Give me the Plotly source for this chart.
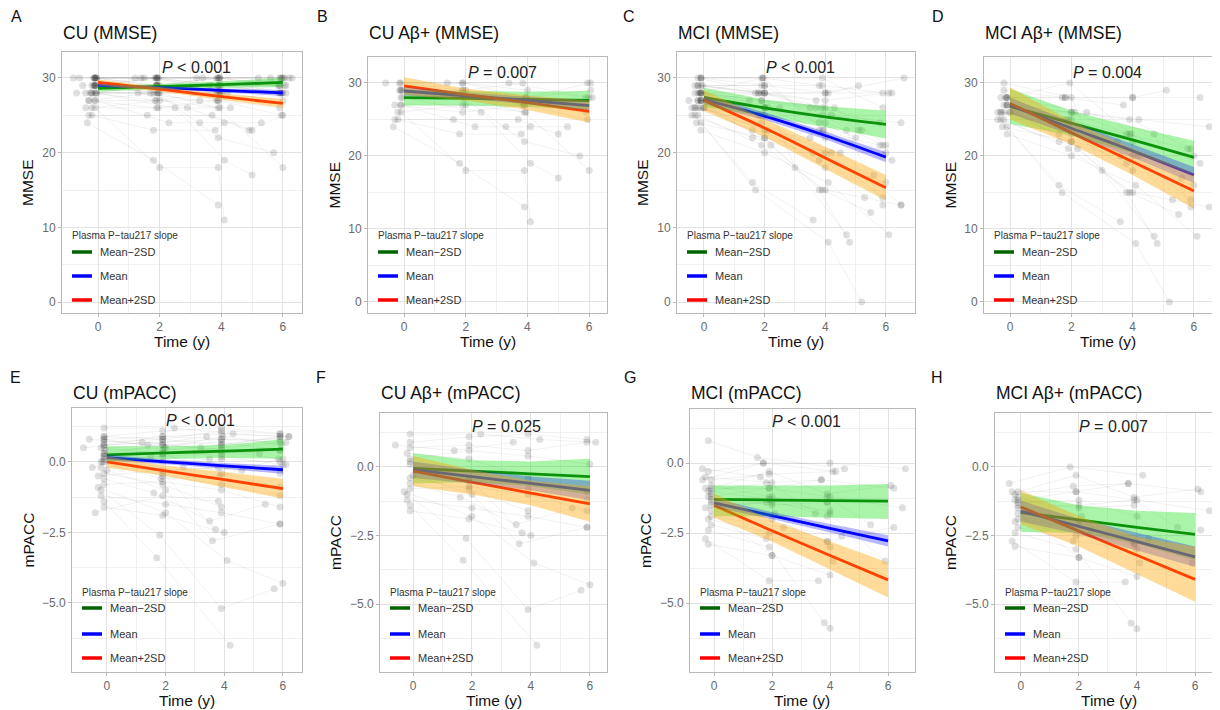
import plotly.graph_objects as go

# The page body has an 8 px margin, so the figure is drawn 8 px smaller and
# all reference pixel positions are shifted by that margin.
MARGIN = 8
W, H = 1220 - MARGIN, 710 - MARGIN
FONT = "Liberation Sans, Arial, Helvetica, sans-serif"

# ---------------- data ----------------
groups = ["Mean−2SD", "Mean", "Mean+2SD"]
fit_x = [0, 2, 4, 6]

# subject trajectories: (times, values, amyloid_positive)
cu_mmse = [
    ([-0.10, 1.90, 3.90, 5.90], [30, 30, 30, 30], 0),
    ([-0.05, 1.95, 3.95, 5.95], [30, 30, 30, 30], 0),
    ([-0.10, 1.85, 3.90, 6.00], [30, 30, 29, 30], 0),
    ([-0.15, 1.90, 3.85, 5.95], [30, 29, 30, 30], 1),
    ([-0.10, 1.95, 3.95, 5.90], [29, 30, 30, 29], 0),
    ([-0.20, 1.90, 3.90, 5.85], [29, 29, 29, 29], 0),
    ([-0.10, 1.90, 3.95, 6.05], [29, 30, 28, 29], 1),
    ([-0.05, 2.00, 3.90, 5.95], [28, 28, 28, 28], 0),
    ([-0.10, 1.90, 3.85, 5.90], [28, 29, 27, 28], 1),
    ([-0.20, 1.95, 4.00, 6.00], [28, 28, 28, 27], 0),
    ([-0.80, 1.20, 3.20, 5.20], [30, 30, 30, 30], 0),
    ([-0.50, 1.50, 3.60, 5.60], [29, 30, 29, 30], 0),
    ([-0.40, 1.70, 3.70, 6.20], [28, 28, 29, 30], 0),
    ([-0.60, 1.40, 3.40, 6.10], [30, 30, 30, 28], 1),
    ([-0.30, 1.80, 4.20, 6.30], [27, 28, 28, 30], 0),
    ([-0.10, 1.90, 3.90, 5.90], [27, 27, 27, 26], 1),
    ([-0.30, 1.90, 3.90, 5.95], [27, 26, 27, 25], 1),
    ([-0.20, 2.00, 3.95], [26, 27, 26], 1),
    ([-0.40, 1.95, 4.30], [26, 26, 26], 0),
    ([-0.30, 1.60, 3.70, 5.00], [25, 25, 25, 23], 1),
    ([-0.20, 1.80, 3.80, 4.10], [25, 23, 23, 24], 1),
    ([-0.10, 2.30, 3.30, 5.30], [27, 24, 24, 24], 1),
    ([-0.35, 1.80, 3.90], [24, 19, 13], 1),
    ([-0.10, 2.00, 3.90, 4.10], [26, 18, 18, 11], 1),
    ([-0.05, 2.50, 4.10, 5.00], [28, 26, 19, 17], 1),
    ([-0.10, 1.90, 3.90, 5.70], [29, 28, 22, 20], 1),
    ([-0.15, 1.95, 3.90, 6.00], [29, 28, 26, 18], 1),
    ([-0.10, 2.90, 4.90, 6.00], [30, 26, 23, 25], 0),
    ([-0.20, 1.90, 3.90, 6.10], [28, 29, 29, 29], 0),
    ([-0.05, 1.90, 3.90, 5.90], [30, 29, 30, 29], 0),
    ([-0.10, 1.95, 3.95, 5.95], [29, 29, 29, 28], 0),
    ([-0.25, 1.85, 3.85, 5.85], [28, 27, 28, 28], 0),
    ([-0.10, 1.90, 4.00, 6.00], [30, 30, 29, 28], 1),
    ([-0.05, 2.00, 3.95, 6.05], [29, 29, 28, 30], 1),
    ([-0.70, 1.30, 3.30], [28, 28, 27], 0),
]

mci_mmse = [
    ([-0.10, 1.90, 3.90, 5.90], [30, 30, 30, 26], 0),
    ([-0.20, 1.80, 4.00, 5.10], [29, 28, 28, 29], 1),
    ([-0.10, 1.95, 3.80], [30, 30, 29], 0),
    ([-0.30, 1.70, 3.70], [28, 28, 27], 1),
    ([-0.10, 2.00, 3.90, 5.90], [27, 26, 25, 21], 1),
    ([-0.20, 1.90, 4.00, 5.90], [26, 24, 20, 14], 1),
    ([-0.10, 2.00, 4.00, 6.00], [27, 25, 22, 20], 1),
    ([-0.40, 1.60, 3.60, 5.60], [25, 22, 20, 17], 1),
    ([0.00, 2.00, 4.00], [26, 23, 18], 1),
    ([-0.10, 1.90, 3.90, 5.80], [28, 27, 26, 24], 0),
    ([-0.20, 2.00, 4.10, 6.60], [29, 29, 28, 30], 0),
    ([-0.10, 1.80, 4.00, 6.20], [28, 28, 28, 28], 1),
    ([-0.30, 2.10, 4.20, 6.50], [26, 26, 25, 24], 1),
    ([-0.10, 2.00, 3.90, 6.20], [27, 26, 23, 19], 1),
    ([-0.20, 1.90, 4.00, 6.50], [25, 21, 15, 13], 1),
    ([-0.10, 1.60, 3.60], [24, 16, 11], 1),
    ([-0.30, 1.70, 4.10, 5.20], [25, 15, 8, 0], 1),
    ([-0.10, 2.00, 4.10, 6.10], [23, 20, 16, 9], 1),
    ([0.00, 2.00, 3.80, 4.80], [26, 22, 15, 8], 1),
    ([-0.20, 2.20, 3.90, 5.50], [27, 21, 15, 12], 1),
    ([-0.10, 1.80, 3.80, 5.80], [28, 25, 23, 21], 1),
    ([-0.05, 2.00, 4.00, 5.20], [29, 28, 26, 23], 0),
    ([-0.20, 2.00, 3.80, 5.00], [27, 26, 24, 22], 0),
    ([-0.10, 2.50, 4.70, 5.90], [28, 26, 23, 13], 1),
    ([-0.30, 1.60, 3.50, 5.30], [26, 23, 22, 14], 1),
    ([-0.10, 1.90, 3.90, 5.90], [29, 29, 29, 28], 0),
    ([-0.20, 2.00, 3.00, 4.70], [30, 28, 18, 9], 1),
    ([-0.10, 2.10, 4.50, 6.50], [26, 23, 20, 13], 0),
    ([-0.40, 1.90, 3.80, 6.00], [26, 25, 19, 16], 1),
    ([-0.10, 2.00, 4.00], [30, 29, 24], 0),
    ([-0.20, 1.90, 4.30, 6.00], [28, 27, 26, 21], 0),
    ([-0.10, 1.90, 3.70, 5.10], [27, 28, 26, 23], 0),
    ([-0.50, 1.50, 3.50], [27, 27, 26], 0),
    ([-0.30, 2.00, 4.00, 6.10], [29, 28, 27, 28], 0),
    ([-0.15, 1.95, 3.95], [28, 30, 23], 1),
    ([-0.25, 2.00, 4.20], [24, 22, 20], 1),
]

cu_mpacc = [
    ([-0.10, 1.90, 3.90, 5.90], [0.8, 0.9, 1.0, 0.9], 0),
    ([-0.10, 1.90, 3.90, 5.90], [0.6, 0.7, 0.8, 0.8], 0),
    ([-0.05, 1.95, 3.95, 5.95], [0.4, 0.5, 0.9, 0.6], 0),
    ([-0.10, 1.90, 3.90, 5.90], [0.9, 1.1, 1.2, 1.0], 1),
    ([-0.10, 1.90, 3.90, 6.10], [0.2, 0.3, 0.5, 0.7], 0),
    ([-0.10, 1.90, 3.90, 5.90], [0.0, 0.2, 0.3, 0.4], 0),
    ([-0.20, 1.90, 3.90, 5.90], [-0.2, 0.0, 0.1, 0.0], 0),
    ([-0.10, 1.90, 3.90, 5.90], [0.7, 0.8, 0.6, 0.9], 1),
    ([-0.10, 1.90, 3.90, 6.00], [0.3, 0.6, 0.4, 0.1], 1),
    ([-0.30, 1.90, 3.80, 5.90], [-0.5, -0.3, -0.2, -0.4], 0),
    ([-0.10, 1.90, 3.90, 5.90], [-0.8, -0.7, -1.0, -1.6], 1),
    ([-0.20, 2.00, 3.90, 5.90], [-1.2, -1.5, -1.8, -2.2], 1),
    ([-0.10, 1.90, 4.00], [-1.6, -1.9, -2.5], 1),
    ([-0.20, 1.80, 3.90, 5.70], [-1.0, -2.6, -5.2, -4.5], 1),
    ([-0.10, 1.70, 4.20], [-1.4, -3.4, -6.5], 1),
    ([-0.30, 2.00, 4.10, 6.00], [-0.9, -1.8, -3.5, -4.3], 1),
    ([-0.80, 1.20, 3.20, 5.20], [0.5, 0.7, 0.5, 0.3], 0),
    ([-0.50, 1.50, 3.50], [-0.2, 0.2, 0.1], 0),
    ([-0.10, 2.30, 4.30, 6.20], [1.2, 1.2, 1.0, 0.9], 1),
    ([-0.20, 1.90, 3.90, 5.90], [0.5, 0.3, -0.4, -0.9], 1),
    ([-0.10, 1.90, 3.90, 5.90], [0.1, -0.5, -0.8, -1.2], 1),
    ([-0.40, 1.90, 3.80], [-1.8, -1.2, -1.4], 0),
    ([-0.10, 1.60, 3.50, 5.40], [-0.6, -1.1, -2.1, -1.5], 1),
    ([-0.10, 2.00, 3.90, 6.00], [0.8, 0.5, 0.2, -0.1], 0),
    ([-0.10, 1.90, 3.70], [0.2, -0.4, -2.4], 1),
    ([-0.10, 1.90, 3.90, 5.90], [0.6, 0.9, 0.8, 0.7], 0),
    ([-0.10, 1.90, 3.90, 5.90], [0.9, 0.8, 1.1, 1.0], 0),
    ([-0.10, 1.90, 3.90, 6.20], [0.3, 0.4, 0.6, 0.9], 0),
    ([-0.20, 2.60, 4.60, 6.10], [0.0, -0.2, -0.3, -0.1], 0),
    ([-0.10, 1.90, 3.90], [-0.4, -0.8, -1.6], 1),
    ([0.00, 2.00, 3.60, 5.90], [-0.3, -1.0, -2.8, -2.2], 1),
    ([-0.10, 1.90, 3.90, 5.90], [0.5, 0.6, 0.7, 0.4], 0),
    ([-0.60, 1.40, 3.40], [0.8, 0.6, 0.9], 1),
    ([-0.15, 1.85, 3.85, 5.85], [0.0, -0.6, -0.5, 0.1], 0),
]

mci_mpacc = [
    ([-0.20, 1.70, 4.00, 6.60], [-0.3, 0.0, 0.0, -0.2], 0),
    ([-0.10, 1.90, 4.10], [-0.6, -0.4, -0.3], 0),
    ([-0.20, 1.80, 3.70, 6.20], [-1.0, -0.7, -0.6, -0.9], 1),
    ([-0.10, 2.00, 4.00, 5.90], [-1.3, -1.2, -1.8, -3.5], 1),
    ([-0.30, 1.90, 3.90, 5.40], [-0.9, -0.9, -1.2, -2.2], 1),
    ([-0.10, 2.00, 4.00, 6.50], [-1.5, -1.4, -1.2, -1.6], 1),
    ([-0.20, 1.90, 3.90], [-2.0, -2.5, -2.8], 1),
    ([-0.10, 2.00, 4.00], [-1.7, -3.3, -4.0], 1),
    ([-0.20, 1.90, 3.80, 4.00], [-2.4, -3.0, -5.7, -5.9], 1),
    ([-0.30, 1.90, 3.60], [-2.7, -4.2, -4.2], 1),
    ([-0.10, 2.10, 4.10], [-1.1, -1.8, -3.5], 1),
    ([-0.40, 1.60, 3.50], [-0.2, -0.5, -1.8], 0),
    ([-0.20, 1.50, 4.50], [0.8, 0.2, -0.2], 0),
    ([-0.10, 2.00, 3.90, 6.20], [-1.4, -2.0, -2.8, -2.3], 1),
    ([-0.10, 1.90, 3.90], [-0.8, -1.2, -1.4], 0),
    ([-0.20, 2.00], [-2.9, -3.3], 1),
    ([-0.10, 2.40, 4.40], [-1.9, -2.3, -2.6], 1),
    ([-0.10, 1.90, 3.70], [-1.2, -0.9, -0.6], 1),
    ([-0.30, 1.80, 4.00], [-1.6, -1.4, -1.7], 0),
    ([-0.10, 1.90, 3.90, 6.10], [-0.9, -0.3, -1.1, -0.8], 1),
    ([-0.10, 1.90, 3.90], [-1.0, -1.3, -1.9], 0),
    ([-0.30, 2.00], [-0.5, -0.7], 0),
    ([-0.10, 1.80, 4.00], [-2.2, -2.7, -3.0], 1),
    ([-0.20, 2.00, 3.90], [-1.2, -1.5, -1.4], 1),
    ([-0.40, 1.70, 4.20], [-0.6, 0.0, -0.3], 1),
]

# model fits at fit_x: (estimate, lower CI, upper CI)
fit_A = {
    "Mean−2SD": ([28.6, 28.85, 29.1, 29.4], [28.2, 28.5, 28.7, 28.8], [29.0, 29.2, 29.55, 30.0]),
    "Mean": ([29.0, 28.7, 28.35, 28.0], [28.8, 28.5, 28.1, 27.6], [29.2, 28.9, 28.6, 28.4]),
    "Mean+2SD": ([29.4, 28.5, 27.5, 26.6], [29.0, 28.2, 27.1, 26.0], [29.8, 28.8, 27.9, 27.2]),
}
fit_B = {
    "Mean−2SD": ([28.0, 27.9, 27.75, 27.6], [26.9, 26.9, 26.7, 26.4], [29.1, 28.9, 28.8, 28.9]),
    "Mean": ([28.9, 28.25, 27.6, 26.9], [28.3, 27.8, 27.1, 26.2], [29.5, 28.7, 28.1, 27.6]),
    "Mean+2SD": ([29.6, 28.4, 27.3, 26.1], [28.4, 27.6, 26.3, 24.6], [30.8, 29.2, 28.3, 27.6]),
}
fit_C = {
    "Mean−2SD": ([27.4, 26.0, 24.8, 23.8], [26.1, 24.9, 23.4, 21.9], [28.7, 27.1, 26.2, 25.6]),
    "Mean": ([27.1, 24.9, 22.3, 19.4], [26.5, 24.4, 21.8, 18.7], [27.7, 25.4, 22.8, 20.1]),
    "Mean+2SD": ([27.0, 23.3, 19.3, 15.3], [25.6, 22.1, 17.8, 13.6], [28.4, 24.5, 20.8, 17.0]),
}
fit_D = {
    "Mean−2SD": ([26.8, 24.5, 22.2, 19.8], [24.4, 22.8, 20.4, 17.6], [29.2, 26.2, 24.0, 22.1]),
    "Mean": ([26.9, 23.8, 20.7, 17.4], [25.8, 22.9, 19.8, 16.3], [28.0, 24.7, 21.6, 18.5]),
    "Mean+2SD": ([27.2, 23.2, 19.2, 15.2], [25.0, 21.6, 17.4, 12.8], [29.4, 24.8, 21.0, 17.6]),
}
fit_E = {
    "Mean−2SD": ([0.25, 0.32, 0.38, 0.45], [0.0, 0.1, 0.15, 0.1], [0.55, 0.55, 0.6, 0.8]),
    "Mean": ([0.15, 0.0, -0.14, -0.28], [0.05, -0.08, -0.24, -0.42], [0.25, 0.08, -0.04, -0.14]),
    "Mean+2SD": ([0.0, -0.32, -0.63, -0.95], [-0.2, -0.5, -0.9, -1.3], [0.2, -0.14, -0.36, -0.6]),
}
fit_F = {
    "Mean−2SD": ([-0.05, -0.15, -0.25, -0.35], [-0.6, -0.55, -0.7, -1.0], [0.5, 0.25, 0.2, 0.3]),
    "Mean": ([-0.1, -0.35, -0.6, -0.85], [-0.4, -0.6, -0.85, -1.2], [0.2, -0.1, -0.35, -0.5]),
    "Mean+2SD": ([-0.15, -0.55, -0.95, -1.35], [-0.7, -1.0, -1.4, -2.0], [0.4, -0.1, -0.5, -0.7]),
}
fit_G = {
    "Mean−2SD": ([-1.30, -1.32, -1.34, -1.36], [-1.9, -1.9, -1.95, -2.0], [-0.8, -0.8, -0.8, -0.75]),
    "Mean": ([-1.42, -1.88, -2.33, -2.78], [-1.58, -2.0, -2.48, -2.98], [-1.26, -1.76, -2.18, -2.58]),
    "Mean+2SD": ([-1.51, -2.42, -3.3, -4.17], [-1.95, -2.8, -3.8, -4.8], [-1.1, -2.05, -2.8, -3.55]),
}
fit_H = {
    "Mean−2SD": ([-1.66, -1.93, -2.2, -2.46], [-2.37, -2.4, -2.8, -3.4], [-0.95, -1.4, -1.6, -1.68]),
    "Mean": ([-1.61, -2.17, -2.72, -3.28], [-2.0, -2.45, -3.05, -3.65], [-1.22, -1.9, -2.4, -2.9]),
    "Mean+2SD": ([-1.46, -2.34, -3.22, -4.1], [-2.1, -2.9, -3.9, -4.92], [-0.85, -1.8, -2.55, -2.91]),
}

p_values = ["<i>P</i> &lt; 0.001", "<i>P</i> = 0.007", "<i>P</i> &lt; 0.001", "<i>P</i> = 0.004",
            "<i>P</i> &lt; 0.001", "<i>P</i> = 0.025", "<i>P</i> &lt; 0.001", "<i>P</i> = 0.007"]
titles = ["CU (MMSE)", "CU Aβ+ (MMSE)", "MCI (MMSE)", "MCI Aβ+ (MMSE)",
          "CU (mPACC)", "CU Aβ+ (mPACC)", "MCI (mPACC)", "MCI Aβ+ (mPACC)"]
letters = ["A", "B", "C", "D", "E", "F", "G", "H"]
x_ticks = [0, 2, 4, 6]
mmse_ticks = [0, 10, 20, 30]
mpacc_ticks = [0, -2.5, -5.0]
mpacc_ticktext = ["0.0", "−2.5", "−5.0"]

# ---------------- styles / layout ----------------
line_colors = {"Mean−2SD": "#006400", "Mean": "#0000ff", "Mean+2SD": "#ff0000"}
ribbon_colors = {"Mean−2SD": "rgba(30,225,30,0.38)", "Mean": "rgba(0,0,255,0.28)",
                 "Mean+2SD": "rgba(255,165,0,0.40)"}

# pixel positions are in window (screenshot) coordinates
panels = [
    dict(data=cu_mmse, ab=False, fit=fit_A, px=(62, 302), py=(52, 313), xr=(-1.17, 6.62), yr=(-1.47, 33.48), m="MMSE", letter_xy=(16, 17), xt=182),
    dict(data=cu_mmse, ab=True, fit=fit_B, px=(368, 607), py=(57, 313), xr=(-1.17, 6.58), yr=(-1.51, 33.56), m="MMSE", letter_xy=(322, 17), xt=488),
    dict(data=mci_mmse, ab=False, fit=fit_C, px=(677, 915), py=(52, 313), xr=(-0.89, 6.96), yr=(-1.47, 33.48), m="MMSE", letter_xy=(629, 17), xt=796),
    dict(data=mci_mmse, ab=True, fit=fit_D, px=(984, 1220), py=(57, 313), xr=(-0.85, 6.85), yr=(-1.51, 33.56), m="MMSE", letter_xy=(938, 17), xt=1108),
    dict(data=cu_mpacc, ab=False, fit=fit_E, px=(72, 302), py=(408, 672), xr=(-1.19, 6.65), yr=(-7.45, 1.91), m="mPACC", letter_xy=(15, 377), xt=187),
    dict(data=cu_mpacc, ab=True, fit=fit_F, px=(380, 607), py=(413, 672), xr=(-1.12, 6.58), yr=(-7.48, 1.97), m="mPACC", letter_xy=(321, 377), xt=494),
    dict(data=mci_mpacc, ab=False, fit=fit_G, px=(690, 915), py=(409, 672), xr=(-0.83, 6.93), yr=(-7.46, 1.93), m="mPACC", letter_xy=(630, 377), xt=802),
    dict(data=mci_mpacc, ab=True, fit=fit_H, px=(995, 1220), py=(413, 672), xr=(-0.89, 6.86), yr=(-7.48, 1.97), m="mPACC", letter_xy=(937, 377), xt=1109),
]


def fx(px):
    return (px - MARGIN) / W


def fy(py):
    return 1 - (py - MARGIN) / H


fig = go.Figure()
annotations = []
shapes = []
layout_axes = {}

axis_common = dict(showline=True, mirror=True, linecolor="#b8b8b8", linewidth=1,
                   showgrid=True, gridcolor="#e2e2e2", gridwidth=0.8, zeroline=False,
                   ticks="outside", ticklen=3, tickcolor="#b8b8b8", tickwidth=1,
                   tickfont=dict(family=FONT, size=12, color="#6a6a6a"),
                   fixedrange=True)

for i, p in enumerate(panels):
    n = i + 1
    xa = "x" if n == 1 else f"x{n}"
    ya = "y" if n == 1 else f"y{n}"
    subj = [s for s in p["data"] if (s[2] == 1 or not p["ab"])]

    tx, ty, mx, my = [], [], [], []
    for t, v, _ in subj:
        tx += list(t) + [None]
        ty += list(v) + [None]
        mx += list(t)
        my += list(v)
    fig.add_trace(go.Scatter(x=tx, y=ty, mode="lines", xaxis=xa, yaxis=ya,
                             line=dict(color="rgba(0,0,0,0.07)", width=0.8),
                             hoverinfo="skip", showlegend=False))
    fig.add_trace(go.Scatter(x=mx, y=my, mode="markers", xaxis=xa, yaxis=ya,
                             marker=dict(size=7, color="rgba(0,0,0,0.12)", line=dict(width=0)),
                             hoverinfo="skip", showlegend=False))
    for g in groups:
        est, lo, hi = p["fit"][g]
        fig.add_trace(go.Scatter(x=fit_x, y=est, mode="lines", xaxis=xa, yaxis=ya,
                                 line=dict(color=line_colors[g], width=2.8, shape="spline"),
                                 showlegend=False, hoverinfo="skip"))
    for g in groups:
        est, lo, hi = p["fit"][g]
        fig.add_trace(go.Scatter(x=fit_x + fit_x[::-1], y=hi + lo[::-1], mode="none",
                                 fill="toself", fillcolor=ribbon_colors[g],
                                 xaxis=xa, yaxis=ya, showlegend=False, hoverinfo="skip"))

    x0, x1 = p["px"]
    y0, y1 = p["py"]
    xax = dict(axis_common, domain=[fx(x0), min(1.0, fx(x1))], range=list(p["xr"]), anchor=ya,
               tickvals=x_ticks, ticktext=[str(v) for v in x_ticks],
               minor=dict(tickvals=[1, 3, 5], showgrid=True, gridcolor="#f0f0f0", gridwidth=0.6, ticks=""))
    if p["m"] == "MMSE":
        yt = dict(tickvals=mmse_ticks, ticktext=[str(v) for v in mmse_ticks],
                  minor=dict(tickvals=[5, 15, 25], showgrid=True, gridcolor="#f0f0f0", gridwidth=0.6, ticks=""))
        ptxt_y = 31.45
        ytitle_off = 34.5
        leg = (77, [61, 37, 13])
    else:
        yt = dict(tickvals=mpacc_ticks, ticktext=mpacc_ticktext,
                  minor=dict(tickvals=[1.25, -1.25, -3.75, -6.25], showgrid=True, gridcolor="#f0f0f0", gridwidth=0.6, ticks=""))
        ptxt_y = 1.47
        ytitle_off = 44.5
        leg = (80, [64, 38, 14])
    yax = dict(axis_common, domain=[fy(y1), fy(y0)], range=list(p["yr"]), anchor=xa, **yt)
    layout_axes["xaxis" if n == 1 else f"xaxis{n}"] = xax
    layout_axes["yaxis" if n == 1 else f"yaxis{n}"] = yax

    # P value
    annotations.append(dict(x=3.18, y=ptxt_y, xref=xa, yref=ya, text=p_values[i], showarrow=False,
                            font=dict(family=FONT, size=16, color="#222222"), xanchor="center", yanchor="middle"))
    # title & letter
    ty_title = 33 if n <= 4 else 393
    annotations.append(dict(x=fx(x0 - 1), y=fy(ty_title), xref="paper", yref="paper", text=titles[i],
                            showarrow=False, xanchor="left", yanchor="middle",
                            font=dict(family=FONT, size=17.5, color="#111111")))
    lx, ly = p["letter_xy"]
    annotations.append(dict(x=fx(lx), y=fy(ly), xref="paper", yref="paper", text=letters[i],
                            showarrow=False, xanchor="center", yanchor="middle",
                            font=dict(family=FONT, size=16, color="#111111")))
    # axis titles
    annotations.append(dict(x=fx(p["xt"]), y=fy(y1 + 28), xref="paper", yref="paper", text="Time (y)",
                            showarrow=False, xanchor="center", yanchor="middle",
                            font=dict(family=FONT, size=15.5, color="#111111")))
    annotations.append(dict(x=fx(x0 - ytitle_off), y=fy((y0 + y1) / 2), xref="paper", yref="paper",
                            text=p["m"], textangle=-90, showarrow=False, xanchor="center", yanchor="middle",
                            font=dict(family=FONT, size=15.5, color="#111111")))
    # legend
    title_off, entry_offs = leg
    annotations.append(dict(x=fx(x0 + 8), y=fy(y1 - title_off), xref="paper", yref="paper",
                            text="Plasma P−tau217 slope", showarrow=False, xanchor="left", yanchor="middle",
                            font=dict(family=FONT, size=10, color="#333333")))
    for g, off in zip(groups, entry_offs):
        shapes.append(dict(type="line", xref="paper", yref="paper", x0=fx(x0 + 10), x1=fx(x0 + 30),
                           y0=fy(y1 - off), y1=fy(y1 - off), line=dict(color=line_colors[g], width=3.5)))
        annotations.append(dict(x=fx(x0 + 36), y=fy(y1 - off), xref="paper", yref="paper", text=g,
                                showarrow=False, xanchor="left", yanchor="middle",
                                font=dict(family=FONT, size=11, color="#333333")))

fig.update_layout(width=W, height=H, margin=dict(l=0, r=0, t=0, b=0), showlegend=False,
                  paper_bgcolor="white", plot_bgcolor="white",
                  font=dict(family=FONT), annotations=annotations, shapes=shapes, **layout_axes)

fig.write_html("out.html")
